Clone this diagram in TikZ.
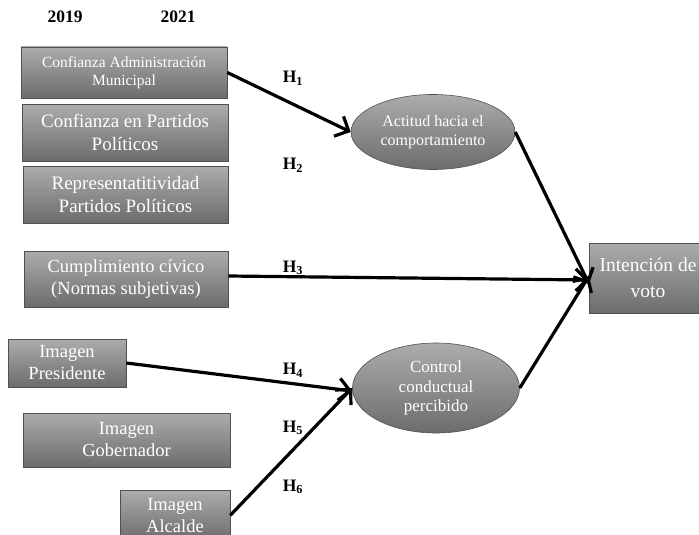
\documentclass[tikz,border=0pt]{standalone}
\usepackage{fontspec}
\setmainfont{Liberation Serif}
\usetikzlibrary{arrows.meta,shapes.geometric}
\definecolor{gtop}{RGB}{172,172,172}
\definecolor{gbot}{RGB}{108,108,108}
\definecolor{gline}{RGB}{80,80,80}
\tikzset{
  gbox/.style={draw=gline, line width=0.6pt, top color=gtop, bottom color=gbot, text=white, inner sep=0pt, align=center},
  gell/.style={ellipse, draw=gline, line width=0.6pt, top color=gtop, bottom color=gbot, text=white, inner sep=0pt, align=center},
  arr/.style={line width=3.2pt, -{Straight Barb[length=11pt,width=22pt,line width=3.2pt]}},
  hlab/.style={font=\fontsize{17.5}{20}\selectfont\bfseries},
}
\begin{document}
\begin{tikzpicture}[x=1pt,y=-1pt]
\useasboundingbox (0,0) rectangle (699,535);
\clip (0,0) rectangle (699,535);
% year labels
\node[hlab] (y1) at (65,17) {2019};
\node[hlab] (y2) at (178,17) {2021};
% left boxes
\node[gbox, minimum width=206pt, minimum height=51pt, font=\fontsize{15.5}{17.5}\selectfont] (b1) at (124,72.5) {Confianza Administración\\Municipal};
\node[gbox, minimum width=206pt, minimum height=57pt, font=\fontsize{19}{23}\selectfont] (b2) at (125,132.5) {Confianza en Partidos\\Políticos};
\node[gbox, minimum width=205pt, minimum height=57pt, font=\fontsize{19}{23}\selectfont] (b3) at (125.5,194.5) {Representatitividad\\Partidos Políticos};
\node[gbox, minimum width=204pt, minimum height=56pt, font=\fontsize{18.5}{22}\selectfont] (b4) at (126,279) {Cumplimiento cívico\\(Normas subjetivas)};
\node[gbox, minimum width=118pt, minimum height=48pt, font=\fontsize{18.5}{22}\selectfont] (b5) at (67,363) {Imagen\\Presidente};
\node[gbox, minimum width=207pt, minimum height=54pt, font=\fontsize{18.5}{22}\selectfont] (b6) at (126.5,440) {Imagen\\Gobernador};
\node[gbox, minimum width=110pt, minimum height=50pt, font=\fontsize{18.5}{22}\selectfont, anchor=north] (b7) at (175,490) {Imagen\\Alcalde};
% ellipses
\node[gell, minimum width=164pt, minimum height=75pt, font=\fontsize{16}{18.5}\selectfont] (e1) at (433,132) {Actitud hacia el\\comportamiento};
\node[gell, minimum width=167pt, minimum height=90pt, font=\fontsize{17}{19.5}\selectfont] (e2) at (436,388) {Control\\conductual\\percibido};
% outcome
\node[gbox, minimum width=124pt, minimum height=70pt, anchor=west] (iv) at (589,278) {};
\node[text=white, align=center, inner sep=0pt, font=\fontsize{19.5}{26}\selectfont] (ivt) at (648,278) {Intención de\\voto};
% hypothesis labels
\node[hlab] (h1) at (293,78) {H$_{\mathbf{1}}$};
\node[hlab] (h2) at (293,165) {H$_{\mathbf{2}}$};
\node[hlab] (h3) at (293,268) {H$_{\mathbf{3}}$};
\node[hlab] (h4) at (293,370) {H$_{\mathbf{4}}$};
\node[hlab] (h5) at (293,428) {H$_{\mathbf{5}}$};
\node[hlab] (h6) at (293,487) {H$_{\mathbf{6}}$};
% arrows
\draw[arr] (b1.east) -- (e1.west);
\draw[arr] (e1.east) -- ([yshift=-6pt]iv.west);
\draw[arr] (b4.east |- 0,276) -- ([yshift=-2pt]iv.west);
\draw[arr] (e2.east) -- ([yshift=2pt]iv.west);
\draw[arr] (b5.east) -- ([yshift=-3pt]e2.west);
\draw[arr] (b7.east) -- (e2.west);
\end{tikzpicture}
\end{document}
